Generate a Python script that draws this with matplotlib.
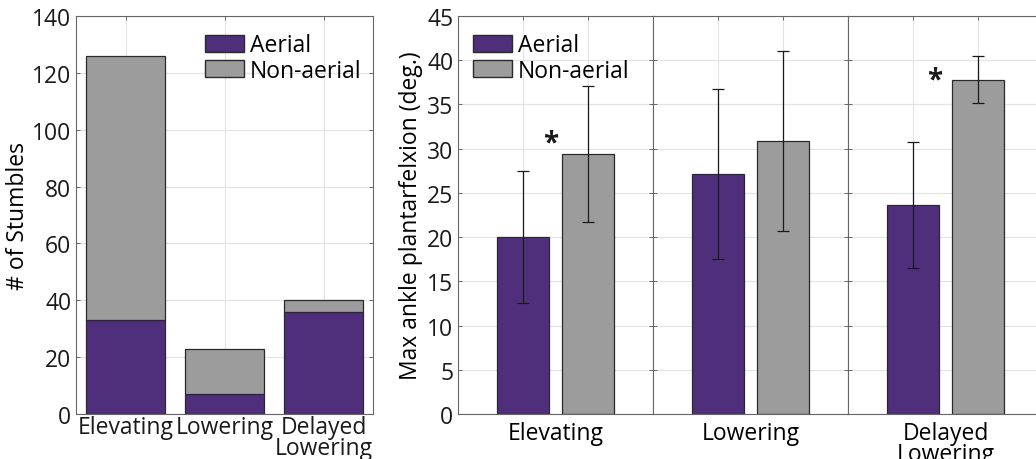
import numpy as np
import matplotlib
matplotlib.use('agg')
import matplotlib.pyplot as plt
from matplotlib.patches import Patch

plt.rcParams['font.family'] = ['Open Sans', 'DejaVu Sans']

# stumble counts
conditions = ['Elevating', 'Lowering', 'Delayed\nLowering']
aerial_count = [33, 7, 36]
nonaerial_count = [93, 16, 4]

# max ankle plantarflexion (deg.), mean and error
group_names = ['Elevating', 'Lowering', 'Delayed\nLowering']
aerial_mean = [20.0, 27.15, 23.65]
aerial_err = [7.45, 9.6, 7.1]
nonaerial_mean = [29.4, 30.85, 37.8]
nonaerial_err = [7.7, 10.2, 2.65]
significant = [True, False, True]
star_x = [1.43, None, 1.34]
star_y = [30.6, None, 37.8]

purple = '#4f2f7b'
grey = '#9b9c9b'
edge = '#2a2a2a'
fs = 16.5

W, H = 1036, 460
fig = plt.figure(figsize=(W/100, H/100), dpi=100)

def style(ax):
    ax.set_axisbelow(True)
    ax.grid(True, color='#e4e4e4', lw=0.9)
    ax.tick_params(direction='in', length=3, width=0.6, color='#555555',
                   top=True, right=True, labelsize=fs, colors='#555555',
                   labelcolor='#1a1a1a')
    for s in ax.spines.values():
        s.set_color('#666666')
        s.set_linewidth(0.8)

# left panel: stacked counts
ax1 = fig.add_axes([76/W, 45/H, 297/W, 398/H])
x = np.arange(1, len(conditions)+1)
ax1.bar(x, aerial_count, 0.8, color=purple, edgecolor=edge, lw=0.9)
ax1.bar(x, nonaerial_count, 0.8, bottom=aerial_count, color=grey, edgecolor=edge, lw=0.9)
ax1.set_xlim(0.5, 3.5)
ax1.set_ylim(0, 140)
ax1.set_yticks(np.arange(0, 141, 20))
ax1.set_xticks(x)
ax1.set_xticklabels(conditions, linespacing=0.8)
ax1.set_ylabel('# of Stumbles', fontsize=fs, labelpad=1)
style(ax1)
ax1.tick_params(axis='x', pad=1)
handles = [Patch(facecolor=purple, edgecolor=edge, label='Aerial'),
           Patch(facecolor=grey, edgecolor=edge, label='Non-aerial')]
ax1.legend(handles=handles, loc='upper right', frameon=False, fontsize=fs,
           handlelength=1.7, handleheight=0.8, handletextpad=0.25,
           labelspacing=0.05, borderaxespad=0.1, bbox_to_anchor=(1.0, 0.985))

# right panel: three adjacent axes
gw = 195
axes = []
for i in range(3):
    ax = fig.add_axes([(458 + i*gw)/W, 45/H, gw/W, 398/H])
    ax.bar(1, aerial_mean[i], 0.8, color=purple, edgecolor=edge, lw=0.9)
    ax.bar(2, nonaerial_mean[i], 0.8, color=grey, edgecolor=edge, lw=0.9)
    ax.errorbar([1, 2], [aerial_mean[i], nonaerial_mean[i]],
                yerr=[aerial_err[i], nonaerial_err[i]], fmt='none',
                ecolor='#1a1a1a', elinewidth=0.9, capsize=4, capthick=0.9)
    if significant[i]:
        ax.text(star_x[i], star_y[i], '*', fontsize=20, fontweight='bold',
                ha='center', va='center', color='#1a1a1a')
    ax.set_xlim(0, 3)
    ax.set_ylim(0, 45)
    ax.set_yticks(np.arange(0, 46, 5))
    ax.set_xticks([1, 2])
    ax.set_xticklabels(['', ''])
    ax.text(1.5, -0.018, group_names[i], transform=ax.get_xaxis_transform(),
            ha='center', va='top', fontsize=fs, linespacing=0.8)
    style(ax)
    if i > 0:
        ax.tick_params(labelleft=False)
    axes.append(ax)

axes[0].set_ylabel('Max ankle plantarfelxion (deg.)', fontsize=fs, labelpad=3)
axes[0].legend(handles=handles, loc='upper left', frameon=False, fontsize=fs,
               handlelength=1.7, handleheight=0.8, handletextpad=0.25,
               labelspacing=0.05, borderaxespad=0.1, bbox_to_anchor=(0.02, 0.985))

fig.savefig('out.png', dpi=100)
